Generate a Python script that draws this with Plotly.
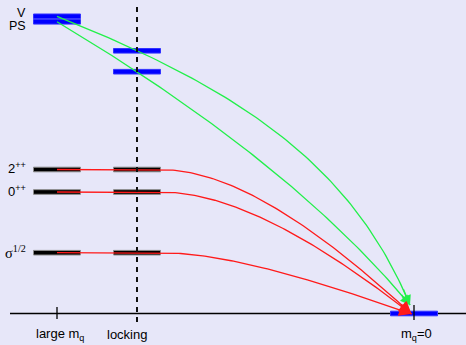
import numpy as np
import plotly.graph_objects as go

# ---------------- data ----------------
states = ["V", "PS", "2<sup>++</sup>", "0<sup>++</sup>", "σ<sup>1/2</sup>"]
state_kind = ["meson", "meson", "glue", "glue", "glue"]
mass_large = [297.2, 291.7, 144.0, 121.5, 60.8]
mass_locking = [262.7, 241.8, 144.0, 121.5, 60.8]
mass_chiral = [0.0, 0.0, 0.0, 0.0, 0.0]
regime_labels = ["large m<sub>q</sub>", "locking", "m<sub>q</sub>=0"]
regime_pos = [57, 137, 414]

# ---------------- style ----------------
W, H = 466, 345
BG = "#e7e7f9"
BAR_COL = {"meson": "#0000ff", "glue": "#000000"}
BAR_EDGE = {"meson": "#3333ff", "glue": "#8a8a8a"}
LINE_COL = {"meson": "#22f04a", "glue": "#ff1a1a"}
bar_half_w = 23.5
bar_half_h = 2.3
# curve bending: cubic control points as fractions of the (dx, dy) span
c1 = [(0.496, 0.242), (0.44, 0.327), (0.27, 0.0), (0.27, 0.0), (0.23, 0.0)]
c2 = [(0.830, 0.499), (0.773, 0.66), (0.60, 0.36), (0.60, 0.36), (0.56, 0.36)]
tip_dx = [-4, -4, -2.5, -2.5, -2.5]
tip_dy = [8.5, 8.5, -0.5, -0.5, -0.5]
label_shift = [3.5, -4.5, 1.5, 1.5, 1.0]
label_size = [12.5, 12.5, 13, 13, 14.5]

x_large, x_lock, x_chiral = regime_pos

fig = go.Figure()
shapes = []
annotations = []

# axis line
shapes.append(dict(type="line", xref="x", yref="y", x0=10, x1=W, y0=0, y1=0,
                   line=dict(color="black", width=1.4), layer="below"))

# level bars
def bar(xc, m, kind):
    return dict(type="rect", xref="x", yref="y",
                x0=xc - bar_half_w, x1=xc + bar_half_w,
                y0=m - bar_half_h, y1=m + bar_half_h,
                fillcolor=BAR_COL[kind], line=dict(color=BAR_EDGE[kind], width=1),
                layer="below")

for i, kind in enumerate(state_kind):
    shapes.append(bar(x_large, mass_large[i], kind))
    shapes.append(bar(x_lock, mass_locking[i], kind))
# chiral level (Goldstone)
shapes.append(bar(x_chiral, mass_chiral[0], "meson"))

t = np.linspace(0, 1, 100)
for i, kind in enumerate(state_kind):
    col = LINE_COL[kind]
    p3x = x_chiral + tip_dx[i]
    p3y = mass_chiral[i] + tip_dy[i]
    if kind == "meson":
        p0x, p0y = x_large, mass_large[i]
    else:
        p0x, p0y = x_lock + bar_half_w, mass_locking[i]
    dx, dy = p3x - p0x, p3y - p0y
    p1x, p1y = p0x + c1[i][0] * dx, p0y + c1[i][1] * dy
    p2x, p2y = p0x + c2[i][0] * dx, p0y + c2[i][1] * dy
    b0, b1, b2, b3 = (1 - t) ** 3, 3 * t * (1 - t) ** 2, 3 * t ** 2 * (1 - t), t ** 3
    xs = b0 * p0x + b1 * p1x + b2 * p2x + b3 * p3x
    ys = b0 * p0y + b1 * p1y + b2 * p2y + b3 * p3y
    if kind == "glue":
        xs = np.concatenate([[x_large], xs])
        ys = np.concatenate([[mass_large[i]], ys])
        head = 1.9
    else:
        head = 1.5
    fig.add_trace(go.Scatter(x=xs, y=ys, mode="lines",
                             line=dict(color=col, width=1.3),
                             hoverinfo="skip", showlegend=False))
    eps = 0.12
    annotations.append(dict(x=p3x, y=p3y, xref="x", yref="y",
                            ax=p3x - eps * (p3x - p2x), ay=p3y - eps * (p3y - p2y),
                            axref="x", ayref="y", text="", showarrow=True,
                            arrowhead=2, arrowsize=head, arrowwidth=1.3,
                            arrowcolor=col))

# dashed locking line
shapes.append(dict(type="line", xref="x", yref="y", x0=x_lock, x1=x_lock,
                   y0=-8.5, y1=308.5, line=dict(color="#111111", width=2, dash="5px,5px"),
                   layer="above"))
# ticks
shapes.append(dict(type="line", xref="x", yref="y", x0=x_large, x1=x_large,
                   y0=-5.5, y1=6.5, line=dict(color="black", width=1.3), layer="above"))
shapes.append(dict(type="line", xref="x", yref="y", x0=x_chiral, x1=x_chiral,
                   y0=-6.5, y1=8.5, line=dict(color="black", width=1.3), layer="above"))

# state labels
for i, s in enumerate(states):
    fam = "Liberation Serif" if s.startswith("σ") else "Liberation Sans"
    annotations.append(dict(x=28, y=mass_large[i], xref="x", yref="y", text=s,
                            showarrow=False, xanchor="right", yanchor="middle",
                            yshift=label_shift[i],
                            font=dict(family=fam, size=label_size[i], color="black")))

# regime labels
reg_shift = [3, -10, 2]
for lab, xp, sh in zip(regime_labels, regime_pos, reg_shift):
    annotations.append(dict(x=xp, y=-21, xref="x", yref="y", text=lab,
                            showarrow=False, xanchor="center", yanchor="middle",
                            xshift=sh,
                            font=dict(family="Liberation Sans", size=13, color="black")))

fig.update_layout(
    width=W, height=H, margin=dict(l=0, r=0, t=0, b=0),
    paper_bgcolor=BG, plot_bgcolor=BG,
    xaxis=dict(range=[0, W], visible=False, fixedrange=True),
    yaxis=dict(range=[313.5 - H, 313.5], visible=False, fixedrange=True),
    shapes=shapes, annotations=annotations, showlegend=False,
)
fig.write_html(
    "out.html",
    config={"displayModeBar": False},
    post_script="document.body.style.margin='0';document.body.style.overflow='hidden';"
                "document.body.style.background='" + BG + "';",
)
